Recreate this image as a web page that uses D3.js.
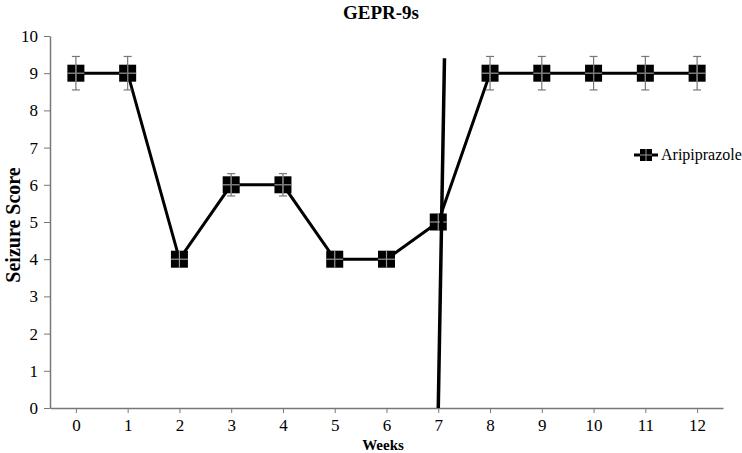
<!DOCTYPE html>
<html><head><meta charset="utf-8">
<script src="https://cdn.jsdelivr.net/npm/d3@7"></script>
<style>body{margin:0;background:#fff}svg{display:block}</style>
</head><body><svg id="c" width="742" height="453"></svg>
<script>
const weeks = [0,1,2,3,4,5,6,7,8,9,10,11,12];
const scores = [9,9,4,6,6,4,4,5,9,9,9,9,9];
const errors = [0.45,0.45,0,0.3,0.3,0,0,0,0.45,0.45,0.45,0.45,0.45];
const yTicks = [0,1,2,3,4,5,6,7,8,9,10];
const seriesName = "Aripiprazole";
const divider = [{w:7.0, v:0},{w:7.12, v:9.4}];

const FF = "'Times New Roman', Times, 'Liberation Serif', serif";
const svg = d3.select("#c");
const m = {l:50, r:19, t:36, b:45};
const W = 742, H = 453;
const x = d3.scalePoint().domain(weeks).range([m.l, W - m.r]).padding(0.5);
const y = d3.scaleLinear().domain([0,10]).range([H - m.b, m.t]);
const xc = d3.scaleLinear().domain([0,12]).range([x(0), x(12)]);

svg.append("text").attr("x",381).attr("y",19).attr("text-anchor","middle")
  .style("font-family",FF).style("font-weight","bold").style("font-size","19px").text("GEPR-9s");

const ya = svg.append("g").attr("transform",`translate(${m.l},0)`)
  .call(d3.axisLeft(y).tickValues(yTicks).tickSize(6).tickPadding(6).tickSizeOuter(0));
ya.attr("font-family",null);
ya.select(".domain").attr("stroke","#777").attr("stroke-width",1.5);
ya.selectAll(".tick line").attr("stroke","#777");
ya.selectAll("text").style("font-size","17px").attr("fill","#000").style("font-family",FF);

const xa = svg.append("g").attr("transform",`translate(0,${H-m.b})`)
  .call(d3.axisBottom(x).tickSize(5).tickPadding(6).tickSizeOuter(0));
xa.attr("font-family",null);
xa.select(".domain").attr("stroke","#777").attr("stroke-width",1.5);
xa.selectAll(".tick line").attr("stroke","#777");
xa.selectAll("text").style("font-size","17px").attr("fill","#000").style("font-family",FF);

svg.append("text").attr("x",383).attr("y",450).attr("text-anchor","middle")
  .style("font-family",FF).style("font-weight","bold").style("font-size","15px").text("Weeks");
svg.append("text").attr("transform","translate(20,225) rotate(-90)").attr("text-anchor","middle")
  .style("font-family",FF).style("font-weight","bold").style("font-size","20px").text("Seizure Score");

const data = weeks.map((w,i)=>({w, v:scores[i], e:errors[i]}));

svg.append("path").datum(data)
  .attr("d", d3.line().x(d=>x(d.w)).y(d=>y(d.v)))
  .attr("fill","none").attr("stroke","#000").attr("stroke-width",3);

const s = 17;
const g = svg.selectAll("g.pt").data(data).join("g").attr("class","pt")
  .attr("transform", d=>`translate(${x(d.w)},${y(d.v)})`);
g.append("rect").attr("x",-s/2).attr("y",-s/2).attr("width",s).attr("height",s).attr("fill","#000");
g.append("line").attr("x1",-s/2).attr("x2",s/2).attr("y1",0).attr("y2",0).attr("stroke","#999").attr("stroke-width",1.2);
g.append("line").attr("x1",0).attr("x2",0).attr("y1",-s/2).attr("y2",s/2).attr("stroke","#999").attr("stroke-width",1.2);
const eb = g.filter(d=>d.e>0);
eb.append("line").attr("x1",0).attr("x2",0).attr("y1",d=>y(d.v+d.e)-y(d.v)).attr("y2",d=>y(d.v-d.e)-y(d.v)).attr("stroke","#777").attr("stroke-width",1.2);
eb.append("line").attr("x1",-4).attr("x2",4).attr("y1",d=>y(d.v+d.e)-y(d.v)).attr("y2",d=>y(d.v+d.e)-y(d.v)).attr("stroke","#777").attr("stroke-width",1.2);
eb.append("line").attr("x1",-4).attr("x2",4).attr("y1",d=>y(d.v-d.e)-y(d.v)).attr("y2",d=>y(d.v-d.e)-y(d.v)).attr("stroke","#777").attr("stroke-width",1.2);

svg.append("path").datum(divider)
  .attr("d", d3.line().x(d=>xc(d.w)).y(d=>y(d.v)))
  .attr("stroke","#000").attr("stroke-width",3.5).attr("fill","none");

const lg = svg.append("g").attr("transform","translate(646,155)");
lg.append("line").attr("x1",-12).attr("x2",12).attr("stroke","#000").attr("stroke-width",3);
lg.append("rect").attr("x",-6).attr("y",-6).attr("width",12).attr("height",12).attr("fill","#000");
lg.append("line").attr("x1",-6).attr("x2",6).attr("stroke","#999").attr("stroke-width",1);
lg.append("line").attr("y1",-6).attr("y2",6).attr("stroke","#999").attr("stroke-width",1);
lg.append("text").attr("x",15).attr("y",5).style("font-family",FF).style("font-size","16px").text(seriesName);
</script></body></html>
